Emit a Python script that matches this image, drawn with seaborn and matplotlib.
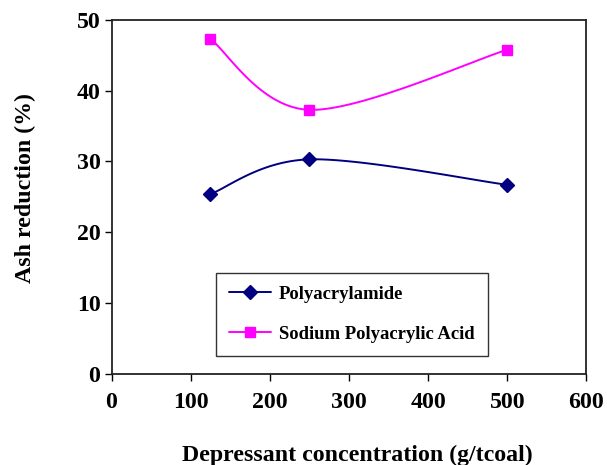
import numpy as np
import matplotlib
matplotlib.use("Agg")
import matplotlib.pyplot as plt
from matplotlib.lines import Line2D
import seaborn as sns
import pandas as pd

# Data
concentration = [125, 250, 500]
polyacrylamide = [25.4, 30.3, 26.7]
sodium_polyacrylic = [47.3, 37.3, 45.8]
series_names = ["Polyacrylamide", "Sodium Polyacrylic Acid"]
x_ticks = [0, 100, 200, 300, 400, 500, 600]
y_ticks = [0, 10, 20, 30, 40, 50]


def smooth(xs, ys, n=40):
    """Excel-like smoothed line (Catmull-Rom style cubic Bezier)."""
    P = np.column_stack([xs, ys]).astype(float)
    ext = np.vstack([P[0], P, P[-1]])
    out = []
    t = np.linspace(0, 1, n)[:, None]
    for i in range(len(P) - 1):
        p0 = ext[i + 1]
        p3 = ext[i + 2]
        c1 = p0 + (ext[i + 2] - ext[i]) / 6
        c2 = p3 - (ext[i + 3] - ext[i + 1]) / 6
        seg = ((1 - t) ** 3) * p0 + 3 * ((1 - t) ** 2) * t * c1 + 3 * (1 - t) * t ** 2 * c2 + t ** 3 * p3
        out.append(seg if i == 0 else seg[1:])
    arr = np.vstack(out)
    return arr[:, 0], arr[:, 1]


sns.set_theme(style="white")
plt.rcParams["font.family"] = ["Liberation Serif", "DejaVu Serif"]
plt.rcParams["font.weight"] = "bold"
plt.rcParams["text.color"] = "black"
plt.rcParams["xtick.color"] = "black"
plt.rcParams["ytick.color"] = "black"

fig = plt.figure(figsize=(6.07, 4.65), dpi=100)
ax = fig.add_axes([0.1837, 0.1963, 0.9662 - 0.1837, 0.957 - 0.1963])

colors = ["#000080", "#FF00FF"]
markers = ["D", "s"]
msizes = [7, 7.5]
handles = []
for name, ys, c, m, ms in zip(series_names, [polyacrylamide, sodium_polyacrylic], colors, markers, msizes):
    sx, sy = smooth(concentration, ys)
    df_s = pd.DataFrame({"x": sx, "y": sy})
    sns.lineplot(data=df_s, x="x", y="y", ax=ax, color=c, linewidth=1.4, sort=False, estimator=None)
    df_p = pd.DataFrame({"x": concentration, "y": ys})
    ax.plot(df_p["x"], df_p["y"], linestyle="none", marker=m, color=c, markersize=ms, zorder=5)
    handles.append(Line2D([0], [0], color=c, marker=m, markersize=ms, linewidth=1.4, label=name))

ax.set_xlim(0, 600)
ax.set_ylim(0, 50)
ax.set_xticks(x_ticks)
ax.set_yticks(y_ticks)
ax.set_xticklabels([str(v) for v in x_ticks], fontsize=17.2, fontweight="bold", color="black")
ax.set_yticklabels([str(v) for v in y_ticks], fontsize=17.2, fontweight="bold", color="black")
ax.tick_params(axis="x", direction="out", length=5, width=1, color="black", pad=8, bottom=True, top=False)
ax.tick_params(axis="y", direction="out", length=5, width=1, color="black", pad=3, left=True, right=False)
for s in ax.spines.values():
    s.set_color("#222222")
    s.set_linewidth(1.3)
ax.set_xlabel("")
ax.set_ylabel("")

fig.text(357 / 607, 1 - 455 / 465, "Depressant concentration (g/tcoal)", ha="center", va="center",
         fontsize=17.2, fontweight="bold", color="black")
fig.text(25 / 607, 1 - 188 / 465, "Ash reduction (%)", ha="center", va="center", rotation=90,
         fontsize=17.2, fontweight="bold", color="black")

leg = ax.legend(handles=handles, loc="upper left", bbox_to_anchor=((215.7 - 111.5) / 475, (374 - 273) / 354),
                borderaxespad=0, frameon=True, fancybox=False, edgecolor="black", handlelength=2.25,
                labelspacing=1.22, borderpad=0.7, handletextpad=0.45,
                prop={"weight": "bold", "size": 13.4})
leg.get_frame().set_linewidth(1.0)
for t in leg.get_texts():
    t.set_color("black")

fig.savefig("out.png", dpi=100)
